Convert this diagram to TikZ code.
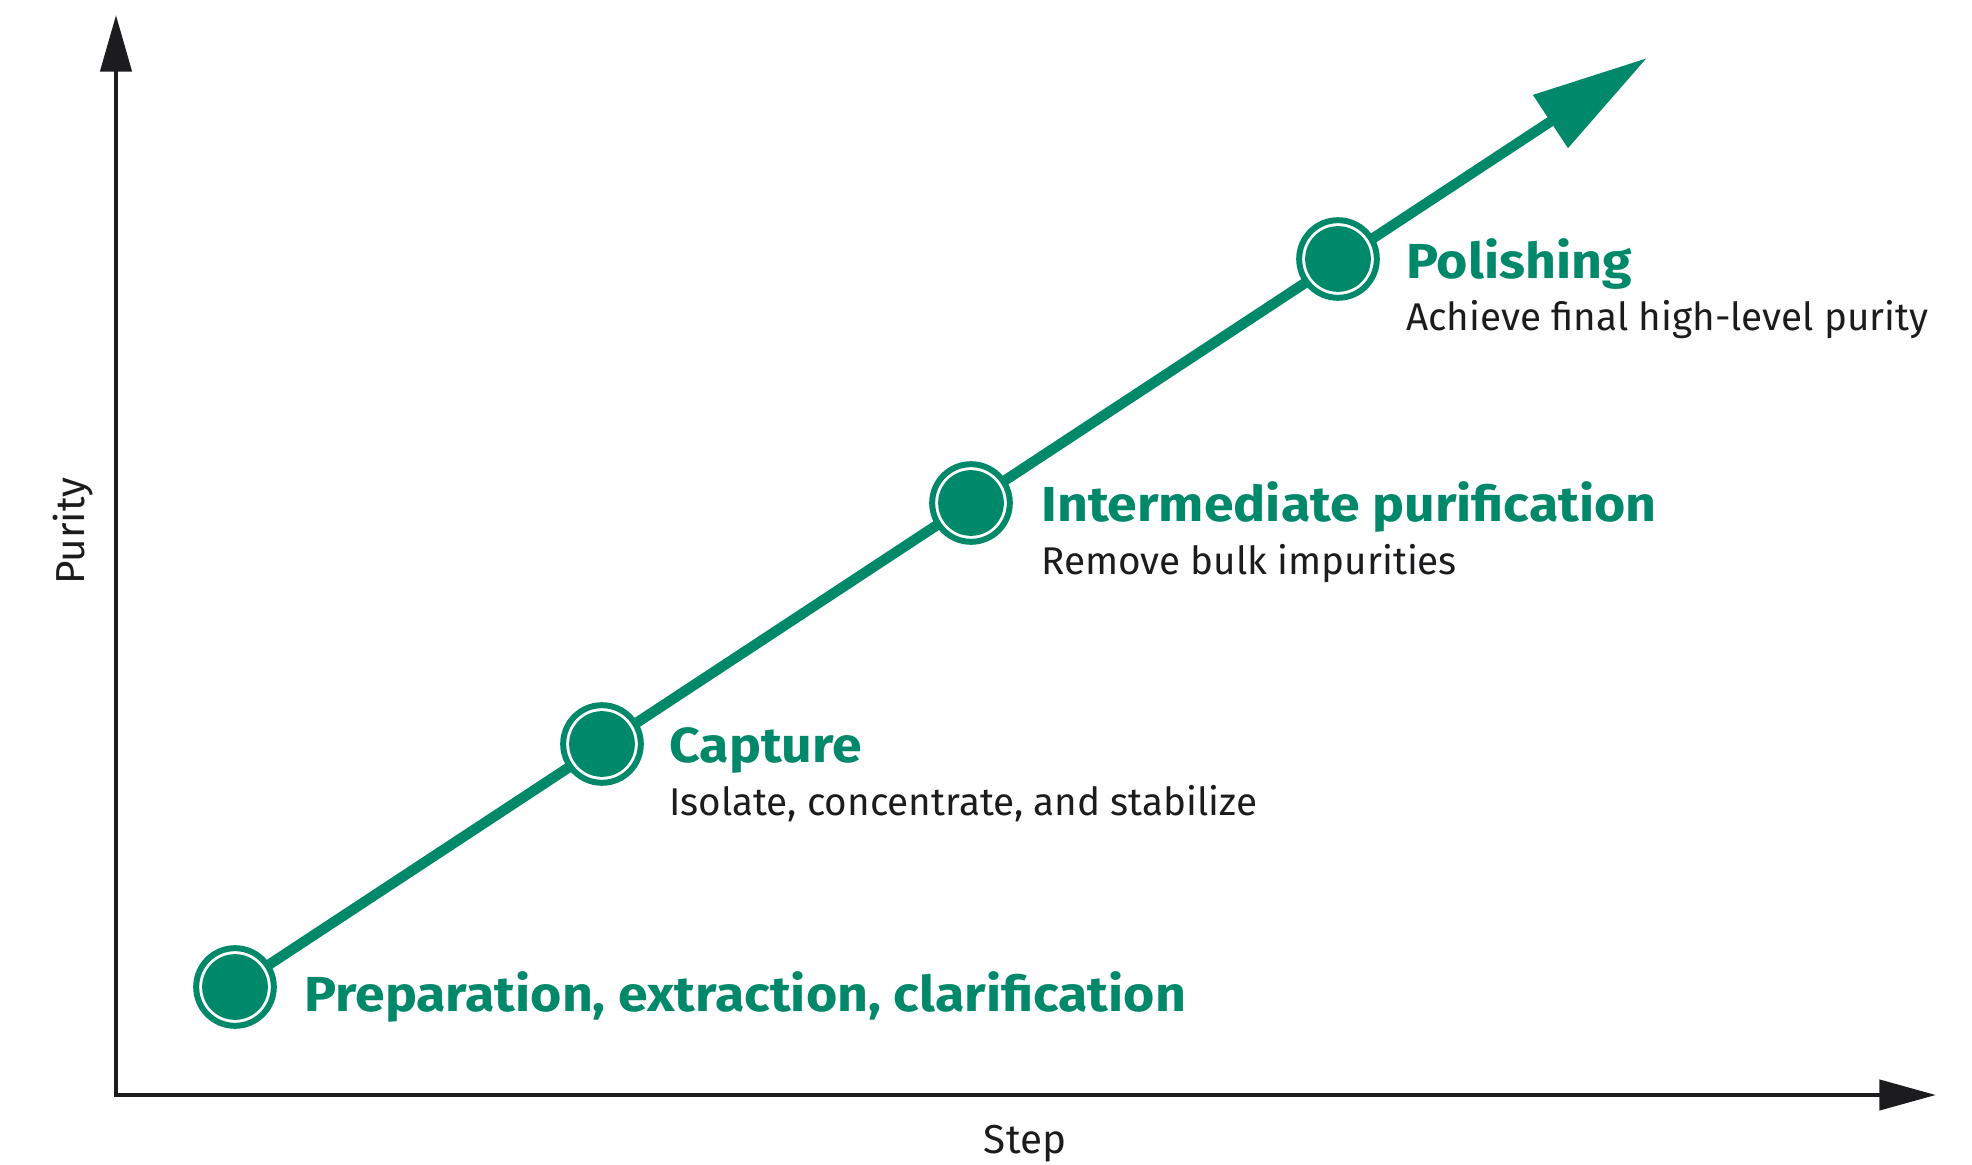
\documentclass[tikz,border=0pt]{standalone}
\usepackage{fontspec}
\setmainfont{Fira Sans}
\newfontfamily\titlefont[FakeStretch=1.09]{Fira Sans}
\usetikzlibrary{arrows.meta,backgrounds}
\definecolor{pgreen}{RGB}{0,136,106}
\definecolor{ink}{RGB}{28,28,30}
\tikzset{
  stepdot/.style={circle, fill=white, draw=pgreen, line width=3.4pt, minimum size=44.2pt, inner sep=0pt,
    path picture={\fill[pgreen] (path picture bounding box.center) circle (18.7pt);}},
  steptitle/.style={anchor=base west, inner sep=0pt, text=pgreen, font=\titlefont\fontsize{28}{32}\selectfont\bfseries},
  stepsub/.style={anchor=base west, inner sep=0pt, text=ink, font=\fontsize{22}{26}\selectfont},
  axislabel/.style={inner sep=0pt, text=ink, font=\fontsize{23}{27}\selectfont},
  axisline/.style={draw=ink, line width=2.8pt, line join=miter},
}
\begin{document}
\begin{tikzpicture}[x=0.02cm, y=-0.02cm]
\useasboundingbox (0,0) rectangle (1972,1165);
% axes
\coordinate (origin) at (116,1095);
\coordinate (ytip) at (116,15);
\coordinate (xtip) at (1936,1095);
\draw[axisline, {Triangle[length=32.3pt,width=17.6pt]}-{Triangle[length=32.3pt,width=17pt]}] (ytip) -- (origin) -- (xtip);
\node[axislabel, rotate=90, anchor=base] (purity) at (84,531) {Purity};
\node[axislabel, anchor=base] (stepl) at (1025,1153) {Step};
% step dots
\node[stepdot] (c1) at (235,987) {};
\node[stepdot] (c2) at (602,744) {};
\node[stepdot] (c3) at (971,503) {};
\node[stepdot] (c4) at (1338,259) {};
\coordinate (tip) at (1647,58);
\begin{scope}[on background layer]
\fill[white] (0,0) rectangle (1972,1165);
\draw[pgreen, line width=5.9pt, -{Triangle[length=65.8pt,width=34.6pt]}] (c1.center) -- (tip);
\end{scope}
% labels
\node[steptitle] (t1) at (304,1011) {Preparation, extraction, clarification};
\node[steptitle] (t2) at (669,763) {Capture};
\node[stepsub] (s2) at (669,815) {Isolate, concentrate, and stabilize};
\node[steptitle] (t3) at (1041,522) {Intermediate purification};
\node[stepsub] (s3) at (1041,575) {Remove bulk impurities};
\node[steptitle] (t4) at (1406,279) {Polishing};
\node[stepsub] (s4) at (1406,331) {Achieve final high-level purity};
\end{tikzpicture}
\end{document}
